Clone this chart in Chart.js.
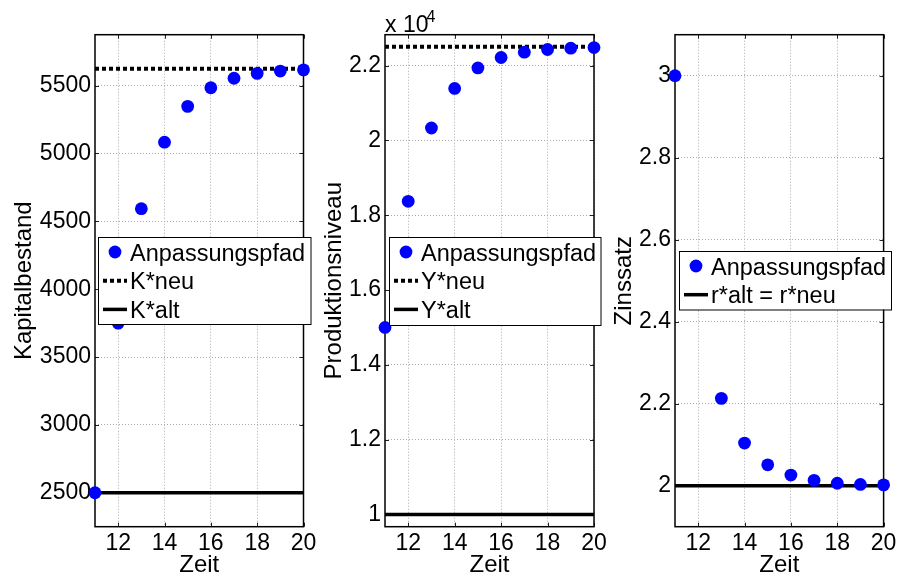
<!DOCTYPE html>
<html>
<head>
<meta charset="utf-8">
<script src="https://cdn.jsdelivr.net/npm/chart.js@4.4.0/dist/chart.umd.min.js"></script>
<style>
  html, body { margin: 0; padding: 0; background: #fff; }
  #wrap { position: relative; width: 900px; height: 576px; }
  #wrap canvas { position: absolute; left: 0; top: 0; }
</style>
</head>
<body>
<div id="wrap">
  <canvas id="kap" width="900" height="576"></canvas>
  <canvas id="prod" width="900" height="576"></canvas>
  <canvas id="zins" width="900" height="576"></canvas>
</div>
<script>
// Daten
const zeit = [11, 12, 13, 14, 15, 16, 17, 18, 19, 20];
const kapital = [2500, 3750, 4593, 5083, 5347, 5484, 5554, 5590, 5607, 5616];
const produktion = [15000, 18371, 20331, 21388, 21937, 22216, 22357, 22429, 22464, 22482];
const zinssatz = [3.0, 2.449, 2.213, 2.104, 2.051, 2.026, 2.013, 2.006, 2.003, 2.002];
const kNeu = 5625, kAlt = 2500;
const yNeu = 22500, yAlt = 10000;
const rAltNeu = 2;

const xTicks = [12, 14, 16, 18, 20];
const kTicks = [2500, 3000, 3500, 4000, 4500, 5000, 5500];
const yTicks = [10000, 12000, 14000, 16000, 18000, 20000, 22000];
const rTicks = [2, 2.2, 2.4, 2.6, 2.8, 3];

Chart.defaults.font.family = "'Liberation Sans', Arial, sans-serif";
Chart.defaults.color = '#000';

const FONT = "'Liberation Sans', Arial, sans-serif";
const TOP = 34.7, BOTTOM = 526.7;

// Rahmen + Ticks nach innen (wie MATLAB)
const rahmen = {
  id: 'rahmen',
  beforeDatasetsDraw(chart) {
    const { ctx, chartArea: a, scales } = chart;
    ctx.save();
    ctx.strokeStyle = '#222';
    ctx.lineWidth = 1;
    const len = 4;
    scales.x.ticks.forEach(t => {
      const px = Math.round(scales.x.getPixelForValue(t.value)) + 0.5;
      ctx.beginPath();
      ctx.moveTo(px, a.bottom); ctx.lineTo(px, a.bottom - len);
      ctx.moveTo(px, a.top); ctx.lineTo(px, a.top + len);
      ctx.stroke();
    });
    scales.y.ticks.forEach(t => {
      const py = Math.round(scales.y.getPixelForValue(t.value)) + 0.5;
      ctx.beginPath();
      ctx.moveTo(a.left, py); ctx.lineTo(a.left + len, py);
      ctx.moveTo(a.right, py); ctx.lineTo(a.right - len, py);
      ctx.stroke();
    });
    ctx.strokeStyle = '#000';
    ctx.lineWidth = 1.5;
    ctx.strokeRect(a.left, a.top, a.right - a.left, a.bottom - a.top);
    ctx.restore();
  }
};

// Legende im Achsenfeld
const kasten = {
  id: 'kasten',
  afterDraw(chart, args, o) {
    if (!o || o.top === undefined) return;
    const { ctx, chartArea: a } = chart;
    const x0 = a.left + o.dx, y0 = o.top;
    ctx.save();
    ctx.fillStyle = '#fff';
    ctx.fillRect(x0, y0, o.width, o.height);
    ctx.strokeStyle = '#000';
    ctx.lineWidth = 1;
    ctx.strokeRect(x0 + 0.5, y0 + 0.5, o.width, o.height);
    ctx.font = '23.5px ' + FONT;
    ctx.textBaseline = 'alphabetic';
    ctx.textAlign = 'left';
    chart.data.datasets.forEach((ds, i) => {
      const base = y0 + 23.5 + i * 28.7;
      const my = base - 8.5;
      if (ds.showLine) {
        ctx.strokeStyle = ds.borderColor;
        ctx.lineWidth = ds.borderWidth;
        ctx.setLineDash(ds.borderDash || []);
        ctx.beginPath();
        ctx.moveTo(x0 + 5, my); ctx.lineTo(x0 + 29, my);
        ctx.stroke();
        ctx.setLineDash([]);
      } else {
        ctx.fillStyle = ds.pointBackgroundColor;
        ctx.beginPath();
        ctx.arc(x0 + 17, my, ds.pointRadius, 0, Math.PI * 2);
        ctx.fill();
      }
      ctx.fillStyle = '#000';
      ctx.fillText(ds.label, x0 + 32, base);
    });
    ctx.restore();
  }
};

// Exponent "x 10^4"
const exponent = {
  id: 'exponent',
  afterDraw(chart, args, o) {
    if (!o || !o.text) return;
    const { ctx, chartArea: a } = chart;
    ctx.save();
    ctx.fillStyle = '#000';
    ctx.textAlign = 'left';
    ctx.textBaseline = 'alphabetic';
    ctx.font = '23px ' + FONT;
    ctx.fillText(o.text, a.left, 31.7);
    const w = ctx.measureText(o.text).width;
    ctx.font = '16px ' + FONT;
    ctx.fillText(o.sup, a.left + w - 2, 21.5);
    ctx.restore();
  }
};

function punkte(label, werte) {
  return {
    label, order: 0, clip: false,
    data: zeit.map((t, i) => ({ x: t, y: werte[i] })),
    pointRadius: 6.4, pointBackgroundColor: '#0000ff', pointBorderWidth: 0,
    pointBorderColor: '#0000ff', showLine: false
  };
}
function linie(label, wert, dash) {
  return {
    label, order: 1, showLine: true,
    data: [{ x: zeit[0], y: wert }, { x: zeit[zeit.length - 1], y: wert }],
    borderColor: '#000', borderWidth: dash ? 4 : 3.5, borderDash: dash,
    pointRadius: 0, borderCapStyle: 'butt'
  };
}

function panel(id, o) {
  return new Chart(document.getElementById(id), {
    type: 'scatter',
    data: { datasets: o.datasets },
    options: {
      responsive: false, animation: false, devicePixelRatio: 1, events: [],
      layout: { padding: { left: o.padLeft, right: 900 - o.right, top: TOP, bottom: 0 } },
      scales: {
        x: {
          type: 'linear', min: 11, max: 20,
          afterBuildTicks: s => { s.ticks = xTicks.map(v => ({ value: v })); },
          afterFit: s => { s.height = 576 - BOTTOM; },
          ticks: { padding: 3.6, font: { size: 23 }, color: '#000', autoSkip: false, maxRotation: 0 },
          grid: { color: '#aaaaaa', lineWidth: 1, drawTicks: false },
          border: { display: false, dash: [1, 2] },
          title: { display: true, text: 'Zeit', color: '#000',
                   font: { size: 24, lineHeight: 0.8 }, padding: { top: 0, bottom: 0.7 } }
        },
        y: {
          type: 'linear', min: o.ymin, max: o.ymax,
          afterBuildTicks: s => { s.ticks = o.ticks.map(v => ({ value: v })); },
          afterFit: s => { s.width = o.left - o.padLeft; },
          ticks: { padding: 4, font: { size: 23 }, color: '#000', callback: o.fmt },
          grid: { color: '#aaaaaa', lineWidth: 1, drawTicks: false },
          border: { display: false, dash: [1, 2] },
          title: { display: true, text: o.title, color: '#000',
                   font: { size: 24 }, padding: { top: 9.7, bottom: 0 } }
        }
      },
      plugins: {
        legend: { display: false },
        tooltip: { enabled: false },
        kasten: o.legend,
        exponent: o.exponent || {}
      }
    },
    plugins: [rahmen, kasten, exponent]
  });
}

panel('kap', {
  padLeft: 0, left: 95, right: 303.5,
  ymin: 2250, ymax: 5875, ticks: kTicks, fmt: v => String(v),
  title: 'Kapitalbestand',
  datasets: [punkte('Anpassungspfad', kapital), linie('K*neu', kNeu, [4, 3]), linie('K*alt', kAlt)],
  legend: { dx: 3, top: 237, width: 212.5, height: 87 }
});

panel('prod', {
  padLeft: 310, left: 385, right: 594,
  ymin: 9675, ymax: 22825, ticks: yTicks, fmt: v => String(+(v / 1e4).toFixed(1)),
  title: 'Produktionsniveau',
  datasets: [punkte('Anpassungspfad', produktion), linie('Y*neu', yNeu, [4, 3]), linie('Y*alt', yAlt)],
  legend: { dx: 4, top: 237, width: 211.5, height: 88 },
  exponent: { text: 'x 10', sup: '4' }
});

panel('zins', {
  padLeft: 600, left: 675, right: 884.3,
  ymin: 1.9, ymax: 3.1, ticks: rTicks, fmt: v => String(v),
  title: 'Zinssatz',
  datasets: [punkte('Anpassungspfad', zinssatz), linie('r*alt = r*neu', rAltNeu)],
  legend: { dx: 4, top: 251, width: 212, height: 58.5 }
});
</script>
</body>
</html>
